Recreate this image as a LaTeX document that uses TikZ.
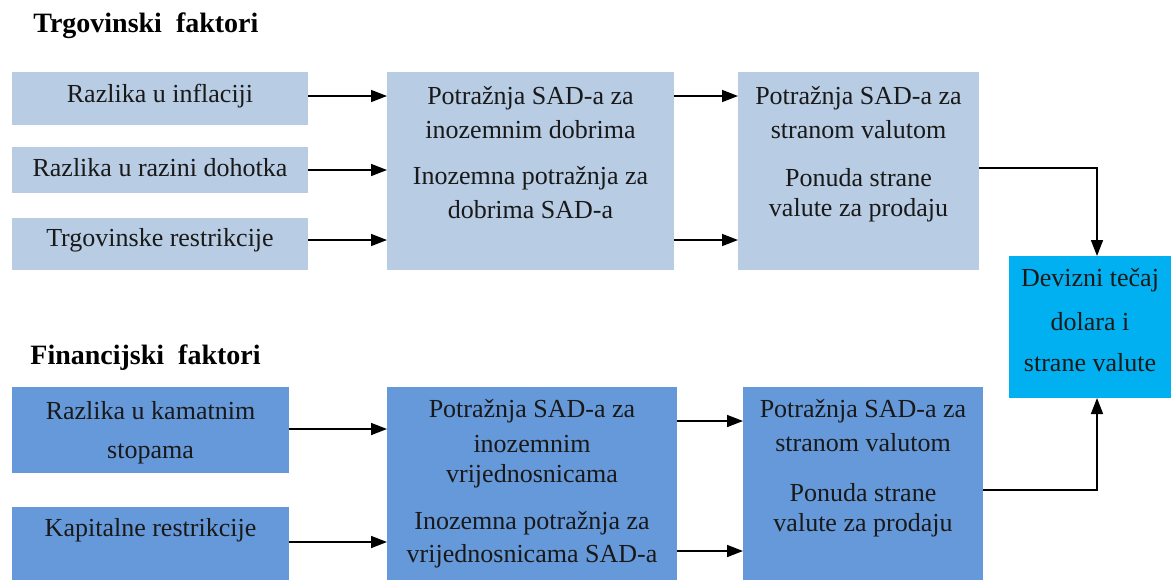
\documentclass[tikz,border=0pt]{standalone}
\usepackage{fontspec}
\setmainfont{Liberation Serif}[Scale=1.0]
\newfontfamily\serifx{Liberation Serif}
\usetikzlibrary{arrows.meta}
\definecolor{lightb}{HTML}{B8CCE4}
\definecolor{midb}{HTML}{6699D9}
\definecolor{cyanb}{HTML}{00B0F0}
\tikzset{
  box/.style={draw=none,inner sep=0pt,outer sep=0pt,rectangle},
  tbox/.style={box,fill=lightb},
  fbox/.style={box,fill=midb},
  dbox/.style={box,fill=cyanb},
  txt/.style={inner sep=0pt,font=\serifx\fontsize{13pt}{15pt}\selectfont,text=black!90},
  ttl/.style={inner sep=0pt,anchor=west,font=\serifx\fontsize{14pt}{16pt}\selectfont\bfseries},
  arr/.style={-{Triangle[length=8pt,width=6pt]},line width=0.8pt,black}
}
\newcommand{\bx}[6]{\node[#1,minimum width=#4*0.5pt,minimum height=#5*0.5pt] (#6) at (#2,#3) {};}
\begin{document}
\begin{tikzpicture}[x=0.5pt,y=-0.5pt]
\useasboundingbox (0,0) rectangle (1171,580);
% titles
\node[ttl] (t1) at (33,26) {Trgovinski\ \ faktori};
\node[ttl] (t2) at (30,358) {Financijski\ \ faktori};
% top boxes
\bx{tbox}{160}{98.5}{296}{53}{L1}
\bx{tbox}{160}{170}{296}{46}{L2}
\bx{tbox}{160}{244}{296}{52}{L3}
\bx{tbox}{530.5}{171}{287}{198}{M1}
\bx{tbox}{858.5}{171}{241}{198}{R1}
\bx{dbox}{1090}{327}{162}{142}{D}
% bottom boxes
\bx{fbox}{150.5}{430}{277}{86}{BL1}
\bx{fbox}{150.5}{543.5}{277}{73}{BL2}
\bx{fbox}{532}{483.5}{290}{193}{BM1}
\bx{fbox}{863}{483.5}{240}{193}{BR1}
% texts
\node[txt] (l1t) at (160,96) {Razlika u inflaciji};
\node[txt] (l2t) at (160,168) {Razlika u razini dohotka};
\node[txt] (l3t) at (160,240) {Trgovinske restrikcije};
\node[txt] (m1a) at (530.5,98) {Potražnja SAD-a za};
\node[txt] (m1b) at (530.5,130) {inozemnim dobrima};
\node[txt] (m1c) at (530.5,178) {Inozemna potražnja za};
\node[txt] (m1d) at (530.5,210) {dobrima SAD-a};
\node[txt] (r1a) at (858.5,98) {Potražnja SAD-a za};
\node[txt] (r1b) at (858.5,130) {stranom valutom};
\node[txt] (r1c) at (858.5,178) {Ponuda strane};
\node[txt] (r1d) at (858.5,210) {valute za prodaju};
\node[txt] (da) at (1090,280) {Devizni tečaj};
\node[txt] (db) at (1090,322) {dolara i};
\node[txt] (dc) at (1090,363) {strane valute};
\node[txt] (b1a) at (150.5,411) {Razlika u kamatnim};
\node[txt] (b1b) at (150.5,454) {stopama};
\node[txt] (b2a) at (150.5,530) {Kapitalne restrikcije};
\node[txt] (bma) at (532,411) {Potražnja SAD-a za};
\node[txt] (bmb) at (532,444) {inozemnim};
\node[txt] (bmc) at (532,476) {vrijednosnicama};
\node[txt] (bmd) at (532,523) {Inozemna potražnja za};
\node[txt] (bme) at (532,556) {vrijednosnicama SAD-a};
\node[txt] (bra) at (863,411) {Potražnja SAD-a za};
\node[txt] (brb) at (863,443) {stranom valutom};
\node[txt] (brc) at (863,493) {Ponuda strane};
\node[txt] (brd) at (863,525) {valute za prodaju};
% connectors top
\draw[arr] (L1.east |- 0,96) -- (M1.west |- 0,96);
\draw[arr] (L2.east |- 0,170) -- (M1.west |- 0,170);
\draw[arr] (L3.east |- 0,240) -- (M1.west |- 0,240);
\draw[arr] (M1.east |- 0,96) -- (R1.west |- 0,96);
\draw[arr] (M1.east |- 0,240) -- (R1.west |- 0,240);
\draw[arr] (R1.east |- 0,168) -| (D.north -| 1097,0);
% connectors bottom
\draw[arr] (BL1.east |- 0,429) -- (BM1.west |- 0,429);
\draw[arr] (BL2.east |- 0,542) -- (BM1.west |- 0,542);
\draw[arr] (BM1.east |- 0,421) -- (BR1.west |- 0,421);
\draw[arr] (BM1.east |- 0,551) -- (BR1.west |- 0,551);
\draw[arr] (BR1.east |- 0,490) -| (D.south -| 1097,0);
\end{tikzpicture}
\end{document}
